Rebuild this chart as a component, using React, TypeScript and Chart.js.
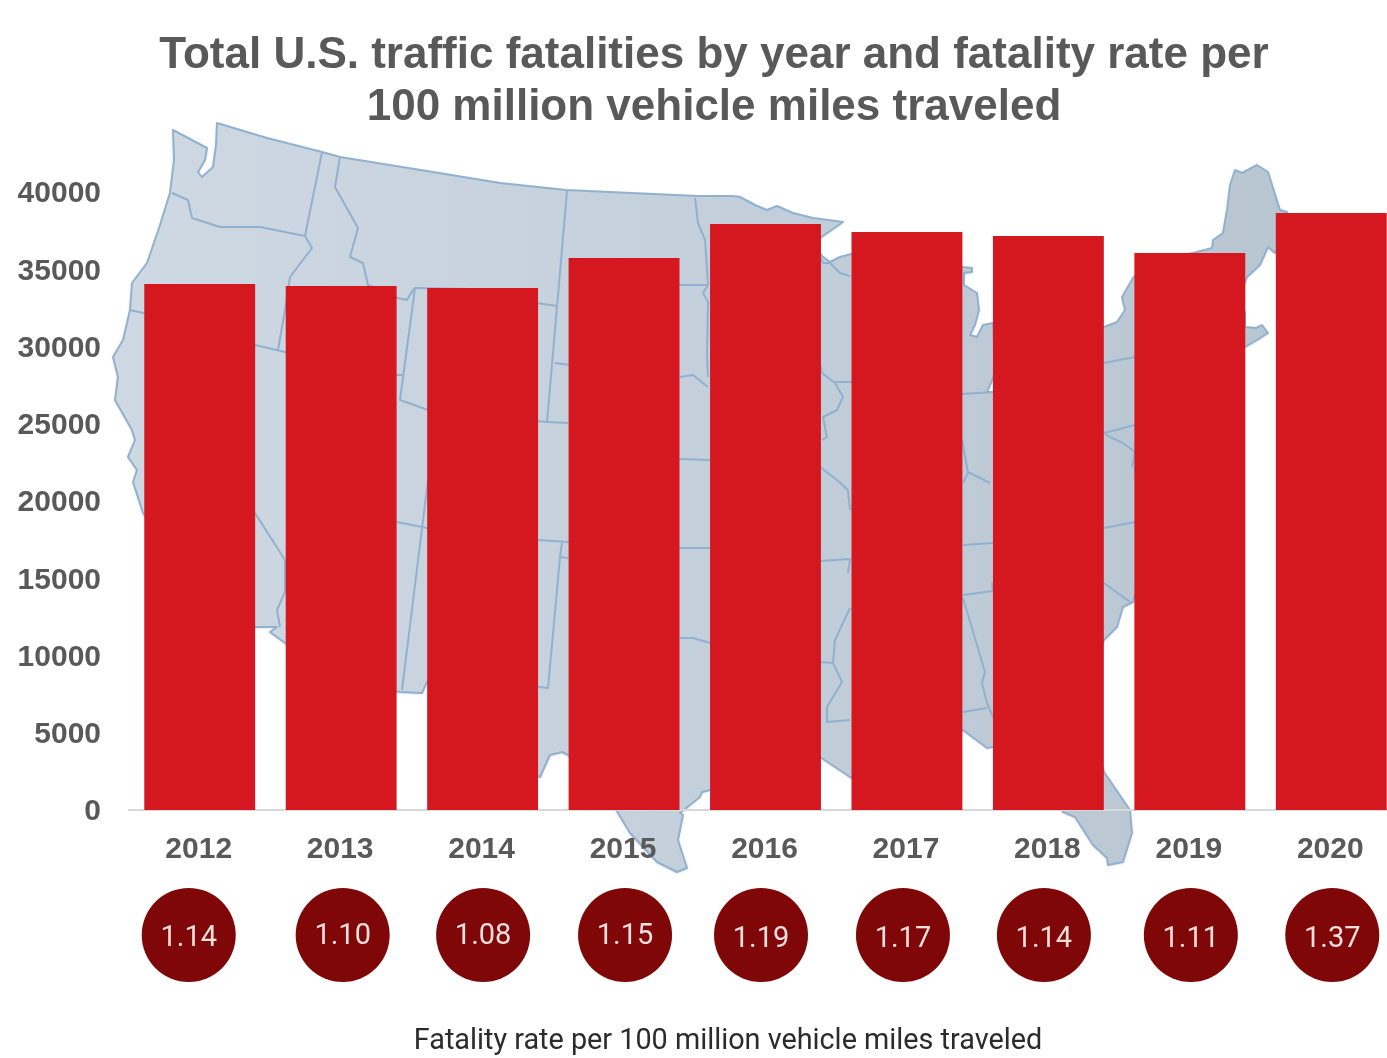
import React, { useEffect, useRef } from "react";
import { Chart, registerables } from "chart.js";

Chart.register(...registerables);

const years = ["2012", "2013", "2014", "2015", "2016", "2017", "2018", "2019", "2020"];
const fatalities = [34050, 33915, 33785, 35730, 37930, 37410, 37150, 36050, 38640];
const rates = ["1.14", "1.10", "1.08", "1.15", "1.19", "1.17", "1.14", "1.11", "1.37"];
const yTicks = [0, 5000, 10000, 15000, 20000, 25000, 30000, 35000, 40000];

const titleLines = [
  "Total U.S. traffic fatalities by year and fatality rate per",
  "100 million vehicle miles traveled",
];
const footerText = "Fatality rate per 100 million vehicle miles traveled";

// Background map artwork (decorative picture, in page pixels)
const mapOutline =
  "M217 123 L267 138 L322 152 L340 157 L433 172 L500 183 L566 190 L697 196 L733 196 L740 197 L755 205 L767 210 L777 206 L793 213 L813 218 L843 222 L820 238 L818 250 L822 256 L830 262 L840 257 L851 254 L900 240 L963 267 L972 268 L972 272 L964 273 L964 285 L977 293 L979 310 L975 325 L970 335 L977 337 L983 325 L993 323 L995 370 L993 378 L987 392 L995 392 L1000 385 L1060 360 L1075 330 L1104 327 L1117 322 L1125 310 L1122 297 L1133 278 L1150 262 L1193 253 L1212 248 L1213 240 L1223 233 L1227 210 L1230 185 L1235 170 L1242 173 L1257 165 L1268 172 L1280 210 L1287 212 L1285 235 L1275 253 L1268 247 L1260 265 L1247 277 L1240 295 L1245 313 L1245 327 L1256 328 L1262 325 L1268 333 L1257 340 L1245 347 L1200 370 L1160 400 L1140 430 L1135 470 L1150 540 L1133 602 L1123 607 L1117 627 L1104 640 L1085 680 L1095 740 L1104 772 L1130 810 L1132 833 L1123 862 L1108 865 L1107 858 L1093 845 L1075 817 L1063 812 L1030 748 L993 747 L987 748 L963 730 L900 745 L880 790 L850 777 L820 757 L770 770 L710 790 L702 792 L700 797 L680 813 L683 815 L678 840 L687 868 L677 872 L657 862 L630 833 L618 813 L590 770 L568 755 L562 752 L550 755 L540 777 L500 760 L470 690 L427 682 L422 693 L400 692 L340 680 L285 643 L270 632 L277 627 L255 627 L200 600 L165 545 L143 513 L133 482 L137 470 L128 457 L135 440 L132 430 L115 400 L118 377 L113 357 L123 340 L130 310 L132 283 L147 263 L160 225 L170 193 L174 160 L173 130 L207 148 L205 160 L198 172 L202 177 L213 167 L216 145 Z";
const mapBorders =
  "M172 193 L188 200 L192 218 L220 227 L260 227 L305 236 M322 152 L305 236 L312 248 L290 277 L285 310 L278 350 M130 310 L143 313 L255 345 L285 352 L340 365 L397 375 L402 375 M340 157 L335 187 L358 228 L350 257 L363 263 L368 285 L385 292 L397 298 L407 300 L413 290 L415 288 L470 289 L537 303 L557 306 M415 288 L400 400 L428 410 L547 422 L568 423 M567 191 L557 307 L547 422 M555 363 L570 365 L620 366 M255 513 L285 560 L330 590 M285 560 L285 592 L277 610 L280 627 M397 522 L427 528 L538 540 L568 542 L680 548 L710 548 M428 480 L402 690 M562 543 L560 557 L568 558 M560 557 L548 688 L538 687 M610 285 L680 285 L708 285 M695 198 L698 223 L705 240 L708 285 L703 293 L708 302 L707 357 L708 377 M680 377 L693 375 L708 387 M620 459 L680 459 L710 460 M680 638 L693 638 L710 643 M820 257 L823 263 L830 263 L840 273 L850 276 M820 363 L822 373 L835 383 L843 397 L837 410 L823 417 L827 437 L822 440 M835 382 L870 382 M820 467 L837 480 L848 490 L850 510 M962 394 L993 392 M962 440 L968 473 L963 483 M968 472 L990 483 M1104 363 L1135 357 M1104 433 L1135 425 M1104 433 L1110 437 L1123 443 L1135 452 L1132 467 M820 561 L850 559 L848 573 M850 608 L835 640 L833 663 L820 662 M833 663 L842 682 L827 707 L827 722 L850 720 M963 545 L993 543 M963 595 L993 591 L992 583 M963 598 L985 672 L982 683 L987 703 L993 717 M963 712 L987 708 M1104 583 L1130 602 M1104 528 L1135 522";

const rateBadgeShift = [-11, 1.5, 0.5, 1, -4.5, -4, -4.5, 1, 1];
const rateTextShift = [4, 2, 2, 2, 5, 5, 5, 5, 5];

const mapPlugin = {
  id: "mapBackdrop",
  beforeDraw(chart: any) {
    const { ctx } = chart;
    const outline = new Path2D(mapOutline);
    const gradient = ctx.createLinearGradient(113, 0, 1290, 0);
    gradient.addColorStop(0, "#cfd9e4");
    gradient.addColorStop(1, "#b8c6d2");
    ctx.save();
    ctx.shadowColor = "rgba(70,70,70,0.25)";
    ctx.shadowBlur = 3;
    ctx.shadowOffsetY = 1;
    ctx.fillStyle = gradient;
    ctx.fill(outline);
    ctx.shadowColor = "transparent";
    ctx.lineJoin = "round";
    ctx.strokeStyle = "#91b1cf";
    ctx.lineWidth = 2;
    ctx.stroke(outline);
    ctx.stroke(new Path2D(mapBorders));
    ctx.restore();
  },
};

const badgePlugin = {
  id: "rateBadges",
  afterDraw(chart: any) {
    const { ctx, scales } = chart;
    const values = chart.data.datasets[1].data as string[];
    ctx.save();
    values.forEach((value: string, i: number) => {
      const x = scales.x.getPixelForTick(i) + rateBadgeShift[i];
      ctx.beginPath();
      ctx.arc(x, 935, 47, 0, Math.PI * 2);
      ctx.fillStyle = "#7f0708";
      ctx.fill();
      ctx.fillStyle = "#f3dede";
      ctx.font = "29px Roboto";
      ctx.textAlign = "center";
      ctx.textBaseline = "middle";
      ctx.fillText(Number(value).toFixed(2), x, 935 + rateTextShift[i]);
    });
    ctx.fillStyle = "#2b2b2b";
    ctx.font = "28.8px Roboto";
    ctx.textAlign = "center";
    ctx.textBaseline = "middle";
    ctx.fillText(footerText, 728, 1042);
    ctx.restore();
  },
};

export default function App() {
  const ref = useRef<HTMLCanvasElement>(null);
  useEffect(() => {
    const chart = new Chart(ref.current as HTMLCanvasElement, {
      type: "bar",
      data: {
        labels: years,
        datasets: [
          {
            label: "Total U.S. traffic fatalities",
            data: fatalities,
            backgroundColor: "#d51820",
            borderWidth: 0,
            barPercentage: 0.784,
            categoryPercentage: 1,
            yAxisID: "y",
          },
          {
            type: "line",
            label: "Fatality rate per 100 million vehicle miles traveled",
            data: rates as any,
            showLine: false,
            pointRadius: 0,
            yAxisID: "yRate",
          },
        ],
      } as any,
      options: {
        responsive: false,
        animation: false,
        layout: { padding: 0 },
        plugins: {
          legend: { display: false },
          tooltip: { enabled: false },
          title: {
            display: true,
            text: titleLines,
            color: "#595959",
            font: { family: "'Liberation Sans'", size: 44, weight: "bold", lineHeight: 52 / 44 },
            padding: { top: 30, bottom: 58 },
          },
        },
        scales: {
          x: {
            grid: { display: false, drawTicks: false },
            border: { display: true, color: "#d9d9d9", width: 2 },
            ticks: {
              color: "#595959",
              font: { family: "'Liberation Sans'", size: 30, weight: "bold" },
              padding: 22,
              labelOffset: -1,
              maxRotation: 0,
              autoSkip: false,
            },
            afterFit(axis: any) {
              axis.height = 248;
            },
          },
          y: {
            min: 0,
            max: 40000,
            grid: { display: false, drawTicks: false },
            border: { display: false },
            afterBuildTicks(axis: any) {
              axis.ticks = yTicks.map((value) => ({ value }));
            },
            ticks: {
              color: "#595959",
              font: { family: "'Liberation Sans'", size: 30, weight: "bold" },
              padding: 28,
              labelOffset: 2,
              callback: (value: any) => String(value),
            },
            afterFit(axis: any) {
              axis.width = 129;
            },
          },
          yRate: {
            position: "right",
            min: 0,
            max: 2,
            grid: { display: false, drawTicks: false },
            border: { display: false },
            ticks: { display: false },
            afterFit(axis: any) {
              axis.width = 26;
            },
          },
        },
      } as any,
      plugins: [mapPlugin, badgePlugin],
    });
    return () => chart.destroy();
  }, []);
  return (
    <div
      style={{
        position: "absolute",
        left: 0,
        top: 0,
        width: 1387,
        height: 1058,
        overflow: "hidden",
        background: "#fff",
      }}
    >
      <canvas
        ref={ref}
        width={1428}
        height={1058}
        style={{ display: "block", filter: "blur(0.7px)" }}
      />
    </div>
  );
}
